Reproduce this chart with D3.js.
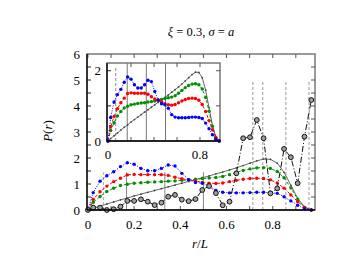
<!DOCTYPE html>
<html><head><meta charset="utf-8">
<script src="https://cdn.jsdelivr.net/npm/d3@7"></script>
<style>body{margin:0;background:#fff}svg{display:block}text{font-family:"Liberation Serif","Times New Roman",serif}</style>
</head><body><svg id="c" width="350" height="270"></svg>
<script>
const xs = [0, 0.023, 0.0525, 0.082, 0.1115, 0.141, 0.1705, 0.200, 0.2295, 0.259, 0.2885, 0.318, 0.3475, 0.377, 0.4065, 0.436, 0.4655, 0.495, 0.5245, 0.554, 0.5835, 0.613, 0.6425, 0.672, 0.7015, 0.731, 0.7605, 0.790, 0.8195, 0.849, 0.8785, 0.908, 0.9375, 0.967];
const blue  = [0, 0.67, 1.11, 1.32, 1.47, 1.67, 1.82, 1.76, 1.60, 1.51, 1.51, 1.60, 1.73, 1.69, 1.41, 1.17, 1.06, 1.03, 0.93, 0.75, 0.68, 0.66, 0.66, 0.66, 0.67, 0.68, 0.68, 0.67, 0.64, 0.51, 0.35, 0.18, 0.05, 0.0];
const red   = [0, 0.41, 0.70, 0.92, 1.09, 1.22, 1.35, 1.37, 1.36, 1.36, 1.36, 1.36, 1.33, 1.26, 1.20, 1.16, 1.12, 1.06, 1.03, 1.02, 1.04, 1.09, 1.14, 1.18, 1.21, 1.22, 1.21, 1.16, 1.04, 0.84, 0.58, 0.32, 0.10, 0.0];
const green = [0, 0.30, 0.52, 0.71, 0.84, 0.94, 0.99, 1.03, 1.05, 1.07, 1.08, 1.09, 1.11, 1.12, 1.14, 1.16, 1.18, 1.21, 1.23, 1.25, 1.29, 1.36, 1.44, 1.52, 1.58, 1.62, 1.63, 1.60, 1.48, 1.24, 0.85, 0.42, 0.10, 0.0];
const gray  = [0, 0.07, 0.15, 0.23, 0.31, 0.39, 0.46, 0.54, 0.61, 0.68, 0.75, 0.82, 0.89, 0.96, 1.03, 1.10, 1.17, 1.24, 1.31, 1.39, 1.46, 1.54, 1.62, 1.71, 1.80, 1.89, 1.96, 1.95, 1.80, 1.45, 0.95, 0.45, 0.12, 0.0];
const black = [0, 0.09, 0.09, 0.0, 0.03, 0.13, 0.35, 0.35, 0.41, 0.32, 0.19, 0.28, 0.51, 0.58, 0.40, 0.34, 0.42, 0.77, 0.92, 0.65, 0.18, 0.32, 1.41, 2.76, 2.80, 3.46, 2.76, 0.64, 0.83, 2.35, 2.03, 1.03, 2.82, 4.23];
const solidLines = [0.167, 0.333, 0.5];
const dashedLeft = [0.067];
const dashedRight = [0.714, 0.757, 0.857, 0.957];
const mainYTicks = [0, 1, 2, 3, 4, 5, 6];
const mainXTicks = [0, 0.2, 0.4, 0.6, 0.8];
const insetYTicks = [0, 2];
const insetXTicks = [0, 0.8];

const svg = d3.select("#c");

function panel(g, x, y, opts) {
  const [x0, x1] = x.range(), [y0, y1] = y.range();
  g.append("rect").attr("x", x0).attr("y", y1).attr("width", x1 - x0).attr("height", y0 - y1)
    .attr("fill", "#fff").attr("stroke", "#808080").attr("stroke-width", 1.6);
  const tl = 4;
  opts.topTicks.forEach(t => {
    g.append("line").attr("x1", x(t)).attr("x2", x(t)).attr("y1", y1).attr("y2", y1 + tl).attr("stroke", "#555");
    g.append("line").attr("x1", x(t)).attr("x2", x(t)).attr("y1", y0).attr("y2", y0 - tl).attr("stroke", "#555");
  });
  opts.rightTicks.forEach(t => {
    g.append("line").attr("x1", x1).attr("x2", x1 - tl).attr("y1", y(t)).attr("y2", y(t)).attr("stroke", "#555");
    g.append("line").attr("x1", x0).attr("x2", x0 + tl).attr("y1", y(t)).attr("y2", y(t)).attr("stroke", "#222");
  });
}

function series(g, x, y, vals, color, dash, marker, width) {
  const pts = xs.map((d, i) => [d, vals[i]]);
  const line = d3.line().x(d => x(d[0])).y(d => y(d[1]));
  g.append("path").attr("d", line(pts)).attr("fill", "none").attr("stroke", color)
    .attr("stroke-width", width || 1).attr("stroke-dasharray", dash);
  if (marker === "dot") {
    g.selectAll(null).data(pts).enter().append("circle")
      .attr("cx", d => x(d[0])).attr("cy", d => y(d[1])).attr("r", 1.7).attr("fill", color);
  } else if (marker === "small") {
    g.selectAll(null).data(pts).enter().append("circle")
      .attr("cx", d => x(d[0])).attr("cy", d => y(d[1])).attr("r", 0.9).attr("fill", "#444");
  } else if (marker === "ring") {
    g.selectAll(null).data(pts).enter().append("circle")
      .attr("cx", d => x(d[0])).attr("cy", d => y(d[1])).attr("r", 2.4)
      .attr("fill", "#a0a0a0").attr("stroke", "#111").attr("stroke-width", 1);
  }
}

// ---------- main ----------
const x = d3.scaleLinear().domain([-0.004, 0.983]).range([87, 315]);
const y = d3.scaleLinear().domain([0, 6]).range([210, 54]);
const gm = svg.append("g");
panel(gm, x, y, {topTicks: d3.range(0, 0.95, 0.1), rightTicks: d3.range(0.5, 6, 0.5)});

solidLines.forEach(v => gm.append("line").attr("x1", x(v)).attr("x2", x(v)).attr("y1", y(0)).attr("y2", y(1.45)).attr("stroke", "#888").attr("stroke-width", 1));
dashedLeft.forEach(v => gm.append("line").attr("x1", x(v)).attr("x2", x(v)).attr("y1", y(0)).attr("y2", y(1.45)).attr("stroke", "#aaa").attr("stroke-dasharray", "3,2"));
dashedRight.forEach(v => gm.append("line").attr("x1", x(v)).attr("x2", x(v)).attr("y1", y(0)).attr("y2", y(5)).attr("stroke", "#999").attr("stroke-dasharray", "3,2"));

series(gm, x, y, gray, "#666", null, "small", 1);
series(gm, x, y, green, "#009000", "3,2", "dot", 1);
series(gm, x, y, red, "#ff0000", "3,2", "dot", 1);
series(gm, x, y, blue, "#0000ff", "1,1.5", "dot", 1);
series(gm, x, y, black, "#111", "6,2,1,2", "ring", 1);

gm.append("line").attr("x1", 87).attr("x2", 87).attr("y1", 54).attr("y2", 210).attr("stroke", "#000").attr("stroke-width", 1.3);
gm.append("line").attr("x1", 87).attr("x2", 315).attr("y1", 210).attr("y2", 210).attr("stroke", "#000").attr("stroke-width", 1.3);

gm.selectAll(null).data(mainYTicks).enter().append("text")
  .attr("x", 80).attr("y", d => y(d) + 4.5).attr("text-anchor", "end")
  .attr("font-size", 13).text(d => d);
gm.selectAll(null).data(mainXTicks).enter().append("text")
  .attr("x", d => x(d)).attr("y", 229).attr("text-anchor", "middle")
  .attr("font-size", 13).text(d => d);

svg.append("text").attr("transform", "translate(52,131) rotate(-90)").attr("text-anchor", "middle")
  .attr("font-size", 13)
  .html("<tspan font-style='italic'>P</tspan>(<tspan font-style='italic'>r</tspan>)");
svg.append("text").attr("x", 200).attr("y", 248).attr("text-anchor", "middle")
  .attr("font-size", 13)
  .html("<tspan font-style='italic'>r</tspan>/<tspan font-style='italic'>L</tspan>");
svg.append("text").attr("x", 201).attr("y", 36).attr("text-anchor", "middle")
  .attr("font-size", 12.5)
  .html("<tspan font-style='italic'>ξ</tspan> = 0.3, <tspan font-style='italic'>σ</tspan> = <tspan font-style='italic'>a</tspan>");

// ---------- inset ----------
const xi = d3.scaleLinear().domain([-0.009, 0.974]).range([107, 220]);
const yi = d3.scaleLinear().domain([0, 2.22]).range([141, 63]);
const gi = svg.append("g");
panel(gi, xi, yi, {topTicks: [0.2, 0.4, 0.6, 0.8], rightTicks: [1, 2]});
solidLines.forEach(v => gi.append("line").attr("x1", xi(v)).attr("x2", xi(v)).attr("y1", yi(0)).attr("y2", yi(2.22)).attr("stroke", "#777").attr("stroke-width", 1));
dashedLeft.forEach(v => gi.append("line").attr("x1", xi(v)).attr("x2", xi(v)).attr("y1", yi(0)).attr("y2", yi(2.1)).attr("stroke", "#888").attr("stroke-dasharray", "3,2"));
series(gi, xi, yi, gray, "#666", null, "small", 1);
series(gi, xi, yi, green, "#009000", "3,2", "dot", 1);
series(gi, xi, yi, red, "#ff0000", "3,2", "dot", 1);
series(gi, xi, yi, blue, "#0000ff", "1,1.5", "dot", 1);
gi.append("line").attr("x1", 107).attr("x2", 107).attr("y1", 63).attr("y2", 141).attr("stroke", "#000").attr("stroke-width", 1.3);
gi.append("line").attr("x1", 107).attr("x2", 220).attr("y1", 141).attr("y2", 141).attr("stroke", "#000").attr("stroke-width", 1.3);
gi.selectAll(null).data(insetYTicks).enter().append("text")
  .attr("x", 101).attr("y", d => yi(d) + 4.5).attr("text-anchor", "end")
  .attr("font-size", 13).text(d => d);
gi.selectAll(null).data(insetXTicks).enter().append("text")
  .attr("x", d => xi(d)).attr("y", 159).attr("text-anchor", "middle")
  .attr("font-size", 13).text(d => d);
</script></body></html>
